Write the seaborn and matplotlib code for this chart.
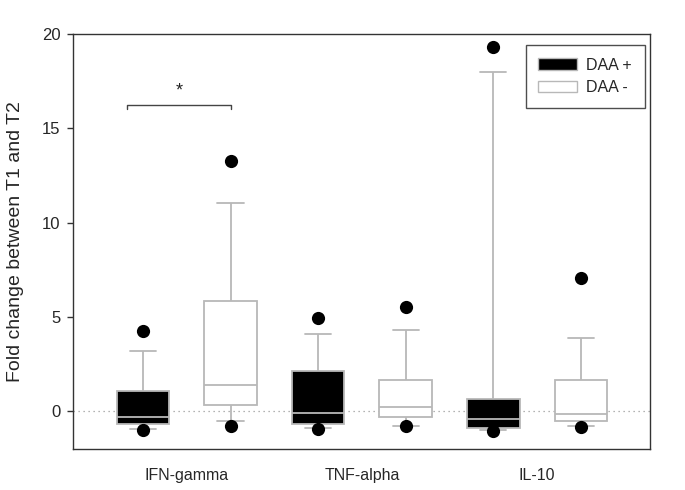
import pandas as pd
import matplotlib.pyplot as plt
import seaborn as sns
from matplotlib.patches import Patch

cytokines = ["IFN-gamma", "TNF-alpha", "IL-10"]
groups = ["DAA +", "DAA -"]

# box summaries, order: (IFN +, IFN -, TNF +, TNF -, IL-10 +, IL-10 -)
whisker_low = [-0.93, -0.51, -0.88, -0.76, -0.97, -0.77]
q1 = [-0.65, 0.34, -0.70, -0.33, -0.91, -0.51]
median = [-0.33, 1.39, -0.07, 0.20, -0.42, -0.12]
q3 = [1.06, 5.86, 2.15, 1.64, 0.63, 1.66]
whisker_high = [3.22, 11.04, 4.10, 4.30, 18.01, 3.88]
# 5th / 95th percentile dots
dot_low = [-0.97, -0.76, -0.95, -0.78, -1.02, -0.83]
dot_high = [4.25, 13.25, 4.95, 5.53, 19.3, 7.05]

# significance bracket between IFN-gamma groups
sig_x = [-0.34, 0.255]
sig_y = [16.0, 16.25]
sig_label = "*"

group_colors = {"DAA +": "black", "DAA -": "white"}
line_gray = "#b8b8b8"


def build_frames():
    box_rows, dot_rows = [], []
    i = 0
    for cyt in cytokines:
        for grp in groups:
            for v in (whisker_low[i], q1[i], median[i], q3[i], whisker_high[i]):
                box_rows.append({"cytokine": cyt, "group": grp, "value": v})
            dot_rows.append({"cytokine": cyt, "group": grp,
                             "low": dot_low[i], "high": dot_high[i]})
            i += 1
    return pd.DataFrame(box_rows), pd.DataFrame(dot_rows)


def main():
    sns.set_style("white")
    plt.rcParams["font.family"] = ["Liberation Sans", "DejaVu Sans"]

    box_df, dot_df = build_frames()

    fig = plt.figure(figsize=(6.85, 4.9), dpi=100)
    ax = fig.add_axes([0.1066, 0.0837, 0.8423, 0.8469])

    ax.axhline(0, color="#9a9a9a", linestyle=(0, (1, 3)), linewidth=0.9, zorder=0)

    # whis=(0, 100) so the whiskers end at the min/max of the five summary values
    sns.boxplot(data=box_df, x="cytokine", y="value", hue="group",
                order=cytokines, hue_order=groups, palette=group_colors,
                whis=(0, 100), width=1.0, gap=0.4, saturation=1,
                linecolor=line_gray, linewidth=1.3, showfliers=False,
                legend=False, ax=ax)

    for col in ["high", "low"]:
        sns.pointplot(data=dot_df, x="cytokine", y=col, hue="group",
                      order=cytokines, hue_order=groups,
                      palette={g: "black" for g in groups}, dodge=0.5,
                      markers="o", linestyle="none", markersize=9.5,
                      markeredgewidth=0, errorbar=None, legend=False,
                      zorder=5, ax=ax)

    # significance bracket
    ax.plot([sig_x[0], sig_x[0], sig_x[1], sig_x[1]],
            [sig_y[0], sig_y[1], sig_y[1], sig_y[0]],
            color="#444444", linewidth=1.0)
    ax.text(sum(sig_x) / 2, 16.75, sig_label, ha="center", va="baseline",
            fontsize=13, color="#222222")

    ax.set_xlim(-0.65, 2.645)
    ax.set_ylim(-2, 20)
    ax.set_yticks([0, 5, 10, 15, 20])
    ax.set_xlabel("")
    ax.set_ylabel("Fold change between T1 and T2", fontsize=14, labelpad=13)
    ax.tick_params(axis="y", direction="out", length=4, width=1,
                   color="#333333", labelsize=12, pad=5, left=True)
    ax.tick_params(axis="x", length=0, labelsize=11.5, pad=14)
    for spine in ax.spines.values():
        spine.set_visible(True)
        spine.set_color("#333333")
        spine.set_linewidth(1.0)

    handles = [Patch(facecolor=group_colors[g], edgecolor=line_gray, linewidth=1.0, label=g)
               for g in groups]
    leg = ax.legend(handles=handles, loc="upper right", bbox_to_anchor=(0.991, 0.9735),
                    borderaxespad=0, fancybox=False, frameon=True, fontsize=11.5,
                    handlelength=2.4, handleheight=0.75, borderpad=0.8,
                    labelspacing=0.45, handletextpad=0.6)
    leg.get_frame().set_edgecolor("#222222")
    leg.get_frame().set_linewidth(1.0)

    fig.savefig("out.png", dpi=100)


if __name__ == "__main__":
    main()
